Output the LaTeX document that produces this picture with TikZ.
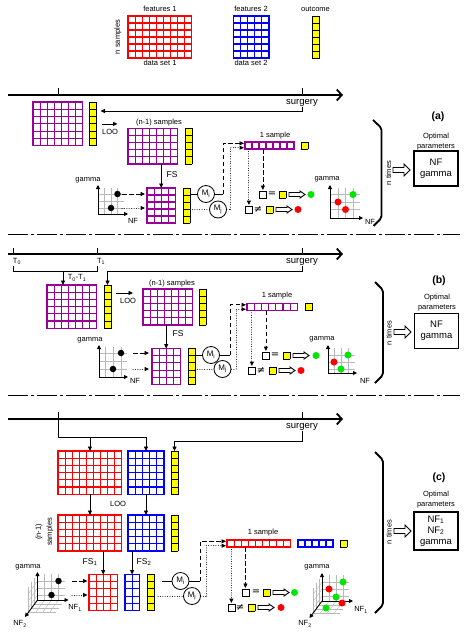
\documentclass[tikz,border=0pt]{standalone}
\usepackage{fontspec}
\setmainfont{Liberation Sans}
\newfontfamily\symfont{DejaVu Sans}
\usetikzlibrary{arrows.meta,calc}
\definecolor{pur}{RGB}{153,0,153}
\definecolor{yel}{RGB}{255,255,0}
\definecolor{grn}{RGB}{0,230,0}
\definecolor{rd}{RGB}{255,0,0}
\definecolor{bl}{RGB}{0,0,255}
\tikzset{
  box0/.style={inner sep=0pt,outer sep=0pt,anchor=north west,draw=none},
  gline/.style={line width=1.1pt,line cap=rect},
  cline/.style={line width=0.9pt,line cap=rect,black},
  conn/.style={line width=0.8pt},
  arr/.style={conn,-{Triangle[length=4.5pt,width=4pt]}},
  dasharr/.style={arr,dash pattern=on 4.5pt off 2.5pt},
  dotl/.style={line width=1pt,line cap=round,dash pattern=on 0.01pt off 2.4pt},
  dotarr/.style={dotl,-{Triangle[length=4.5pt,width=4pt]}},
  timeline/.style={line width=1.8pt,-{Straight Barb[length=5pt,width=11pt]}},
  tick/.style={line width=0.9pt},
  txt/.style={inner sep=0pt,font=\fontsize{7.5}{9}\selectfont},
  optxt/.style={inner sep=0pt,align=center,font=\fontsize{7.5}{10}\selectfont},
  surgtxt/.style={inner sep=0pt,font=\fontsize{9.5}{11}\selectfont},
  fstxt/.style={inner sep=0pt,font=\fontsize{8.5}{10}\selectfont},
  eqs/.style={inner sep=0pt,font=\symfont\fontsize{10}{10}\selectfont},
  lab/.style={inner sep=0pt,font=\bfseries\fontsize{10.5}{12}\selectfont},
  resbox/.style={draw,line width=1.6pt,minimum width=44pt,minimum height=35pt,align=center,inner sep=1pt,font=\fontsize{9.5}{11}\selectfont},
  sq/.style={draw,line width=0.8pt,fill=white,minimum size=7pt,inner sep=0pt,anchor=north west},
  mc/.style={circle,draw,line width=0.8pt,fill=white,minimum size=17pt,inner sep=0pt,font=\fontsize{8}{9}\selectfont},
  gdot/.style={circle,fill=grn,inner sep=0pt,minimum size=7pt},
  rdot/.style={circle,fill=rd,inner sep=0pt,minimum size=7pt},
  bdot/.style={circle,fill=black,inner sep=0pt,minimum size=6.5pt},
  gridg/.style={gray!55,line width=0.4pt},
  axis/.style={line width=0.9pt,{Triangle[length=4pt,width=4pt]}-{Triangle[length=4pt,width=4pt]}},
  axisone/.style={line width=0.9pt,-{Triangle[length=4pt,width=4pt]}},
  brace/.style={line width=1.8pt,rounded corners=2pt},
  barrow/.style={line width=0.9pt,line join=miter},
  sepline/.style={line width=1pt,dash pattern=on 20pt off 3pt on 3pt off 3pt}
}
\newcommand\Mat[8]{%
  \node[box0,minimum width=#4*#6pt,minimum height=#5*#7pt] (#1) at (#2,#3) {};
  \foreach \i in {0,...,#4}{\draw[gline,#8] (#2+\i*#6,#3) -- ++(0,#5*#7);}
  \foreach \j in {0,...,#5}{\draw[gline,#8] (#2,#3+\j*#7) -- ++(#4*#6,0);}
}
\newcommand\Ycol[6]{%
  \node[box0,fill=yel,minimum width=#5pt,minimum height=#4*#6pt] (#1) at (#2,#3) {};
  \foreach \j in {0,...,#4}{\draw[cline] (#2,#3+\j*#6) -- ++(#5,0);}
  \draw[cline] (#2,#3) -- ++(0,#4*#6) (#2+#5,#3) -- ++(0,#4*#6);
}
\newcommand\BArr[6]{%
  \draw[barrow] (#1,#2-#6) -- (#1+#3-#4,#2-#6) -- (#1+#3-#4,#2-#5) -- (#1+#3,#2)
    -- (#1+#3-#4,#2+#5) -- (#1+#3-#4,#2+#6) -- (#1,#2+#6) -- cycle;}
\newcommand\ThreeD[2]{%
  \begin{scope}[shift={(#1,#2)}]
    \foreach \u in {7,14,21} \draw[gridg] (\u,0) -- (\u,-26);
    \foreach \v in {-5,-12,-19} \draw[gridg] (0,\v) -- (27,\v);
    \foreach \t in {1,2,3} {
      \draw[gridg] (-3*\t,4.2*\t) -- (-3*\t,4.2*\t-26);
      \draw[gridg] (-3*\t,4.2*\t) -- (27-3*\t,4.2*\t);
    }
    \foreach \v in {-5,-12,-19} \draw[gridg] (0,\v) -- (-9,\v+12.6);
    \foreach \u in {7,14,21} \draw[gridg] (\u,0) -- (\u-9,12.6);
    \draw[axis] (0,-28) -- (0,0) -- (31,0);
    \draw[axisone] (0,0) -- (-12.5,17);
  \end{scope}}
\begin{document}
\begin{tikzpicture}[x=1pt,y=-1pt]
\path[use as bounding box,fill=white] (0,0) rectangle (474,637);

% ---------------- legend
\node[txt] (l-f1) at (160,9) {features 1};
\Mat{l-g1}{128}{16}{9}{6}{7.1}{7}{rd}
\node[txt] (l-d1) at (160,63) {data set 1};
\node[txt,rotate=90] (l-ns) at (118,37) {n samples};
\node[txt] (l-f2) at (251,9) {features 2};
\Mat{l-g2}{233.5}{16}{5}{6}{7.1}{7}{bl}
\node[txt] (l-d2) at (251,63) {data set 2};
\node[txt] (l-oc) at (315.5,9) {outcome};
\Ycol{l-y}{312}{16}{6}{7}{7.1}

% ---------------- panel a
\coordinate (a-ts) at (8,95); \coordinate (a-te) at (343,95);
\draw[timeline] (a-ts) -- (a-te);
\draw[tick] (58,88) -- (58,95);
\draw[tick] (302,88) -- (302,95);
\node[surgtxt] (a-surg) at (302,103) {surgery};
\Mat{a-g1}{33}{102}{7}{6}{7.1}{7.3}{pur}
\Ycol{a-y1}{89.5}{102}{6}{7}{7.3}
\coordinate (a-sk) at (302,111);
\draw[arr] (a-surg.south) -- (a-sk) -- ($(a-sk -| a-y1.east)+(4,0)$);
\draw[arr] ($(a-y1.east)+(5,0)$) -- ++(16,0);
\node[txt] (a-loo) at (110,132) {LOO};
\node[txt] (a-n1) at (159,122.5) {(n-1) samples};
\Mat{a-g2}{128}{128.5}{7}{5}{7.1}{7.1}{pur}
\Ycol{a-y2}{185}{128.5}{5}{7}{7.1}
\Mat{a-g3}{147}{188}{4}{5}{7.1}{7}{pur}
\Ycol{a-y3}{183}{188}{5}{7}{7}
\draw[arr] (a-g3.north |- a-g2.south) -- (a-g3.north);
\node[fstxt] (a-fs) at (172,175) {FS};
\foreach \x in {104.5,111,117.5} \draw[gridg] (\x,188) -- (\x,214);
\foreach \y in {194,201,208} \draw[gridg] (98,\y) -- (124,\y);
\draw[axis] (98,185) -- (98,214) -- (128,214);
\node[txt] (a-lg) at (88,180) {gamma};
\node[txt] (a-lnf) at (133,221) {NF};
\node[bdot] (a-d1) at (117.5,194) {};
\node[bdot] (a-d2) at (111,208) {};
\draw[dasharr] ($(a-d1 -| a-g3.west)+(-25,0)$) -- ($(a-d1 -| a-g3.west)+(-2,0)$);
\draw[dotarr] ($(a-d2 -| a-g3.west)+(-25,0)$) -- ($(a-d2 -| a-g3.west)+(-2,0)$);
\node[mc] (a-mi) at (206,194) {M\textsubscript{i}};
\node[mc] (a-mj) at (218,209.5) {M\textsubscript{j}};
\draw[conn] (a-y3.east |- a-mi) -- (a-mi);
\draw[dotl] (a-y3.east |- a-mj) -- (a-mj);
\Mat{a-bar}{245}{142}{7}{1}{7}{7}{pur}
\Ycol{a-ys}{301}{142}{1}{7}{7}
\node[txt] (a-1s) at (275,136) {1 sample};
\coordinate (a-cd) at (223,194);
\coordinate (a-cp) at (230,209.5);
\draw[conn] (a-mi) -- (a-cd);
\draw[dasharr] (a-cd) |- ($(a-bar.north west)+(-1,1.3)$);
\draw[dotl] (a-mj) -- (a-cp);
\draw[dotarr] (a-cp) |- ($(a-bar.south west)+(-1,-1.3)$);
\node[sq] (a-b1) at (259,191) {};
\node[eqs] (a-eq) at (272,194.5) {=};
\Ycol{a-yu}{279}{191}{1}{7}{7}
\BArr{289}{194.5}{16}{5}{3.5}{2}
\node[gdot] (a-gd) at (311,194.5) {};
\node[sq] (a-b2) at (245,206) {};
\node[eqs] (a-ne) at (258,209.5) {≠};
\Ycol{a-yl}{266}{206}{1}{7}{7}
\BArr{276}{209.5}{16}{5}{3.5}{2}
\node[rdot] (a-rd) at (298,209.5) {};
\draw[dasharr] (a-b1.north |- a-bar.south) -- ($(a-b1.north)+(0,-1)$);
\draw[dotarr] (a-b2.north |- a-bar.south) -- ($(a-b2.north)+(0,-1)$);
\foreach \x in {338,345.5,353} \draw[gridg] (\x,188) -- (\x,218);
\foreach \y in {194.5,202,209.5} \draw[gridg] (330,\y) -- (360,\y);
\draw[axis] (330,185) -- (330,218) -- (363,218);
\node[txt] (a-rg) at (327,179) {gamma};
\node[txt] (a-rnf) at (370,222) {NF};
\node[gdot] (a-p1) at (353,194.5) {};
\node[rdot] (a-p2) at (338,202) {};
\node[rdot] (a-p3) at (345.5,209.5) {};
\draw[brace] (373,120) -- (381.5,128) -- (381.5,218) -- (373.5,226);
\node[txt,rotate=90] (a-nt) at (388.5,173) {n times};
\BArr{393}{170}{17}{6}{6}{2.5}
\node[optxt] (a-op) at (436,142) {Optimal\\parameters};
\node[resbox] (a-res) at (436,168.5) {NF\\gamma};
\node[lab] (a-lab) at (438,117) {(a)};

% ---------------- panel b
\draw[sepline] (8,234) -- (460,234);
\draw[timeline] (8,254) -- (343,254);
\draw[tick] (13,248) -- (13,254);
\draw[tick] (97,248) -- (97,254);
\draw[tick] (302,248) -- (302,254);
\node[txt] (b-t0) at (17,261.5) {T\textsubscript{0}};
\node[txt] (b-t1) at (101,261.5) {T\textsubscript{1}};
\node[surgtxt] (b-surg) at (302,262) {surgery};
\draw[conn] (13,266) -- (13,271) -- (97,271) -- (97,266);
\coordinate (b-tb) at (63,271);
\Mat{b-g1}{47}{285}{7}{6}{7.1}{7.2}{pur}
\Ycol{b-y1}{104}{285}{6}{7}{7.2}
\draw[arr] (b-tb) -- (b-tb |- b-g1.north);
\node[txt] (b-tt) at (77,278) {T\textsubscript{0}-T\textsubscript{1}};
\coordinate (b-sk) at (302,271);
\draw[arr] (b-surg.south) -- (b-sk) -| (b-y1.north);
\coordinate (b-la) at (116,293);
\draw[arr] (b-la) -- ++(17,0);
\node[txt] (b-loo) at (128,301) {LOO};
\node[txt] (b-n1) at (172,284) {(n-1) samples};
\Mat{b-g2}{143}{289}{7}{5}{7.1}{7.2}{pur}
\Ycol{b-y2}{199}{289}{5}{7}{7.2}
\Mat{b-g3}{152}{348.5}{4}{5}{7.1}{7.2}{pur}
\Ycol{b-y3}{188}{348.5}{5}{7}{7.2}
\draw[arr] (b-g3.north |- b-g2.south) -- (b-g3.north);
\node[fstxt] (b-fs) at (178,334) {FS};
\foreach \x in {105,113,121} \draw[gridg] (\x,347) -- (\x,377);
\foreach \y in {353,361,369} \draw[gridg] (99,\y) -- (127,\y);
\draw[axis] (99,345) -- (99,377) -- (128,377);
\node[txt] (b-lg) at (90,340) {gamma};
\node[txt] (b-lnf) at (135,381) {NF};
\node[bdot] (b-d1) at (121,353) {};
\node[bdot] (b-d2) at (113,369) {};
\draw[dasharr] ($(b-d1 -| b-g3.west)+(-19,0)$) -- ($(b-d1 -| b-g3.west)+(-3,0)$);
\draw[dotarr] ($(b-d2 -| b-g3.west)+(-19,0)$) -- ($(b-d2 -| b-g3.west)+(-3,0)$);
\node[mc] (b-mi) at (211,355) {M\textsubscript{i}};
\node[mc] (b-mj) at (222.5,369) {M\textsubscript{j}};
\draw[conn] (b-y3.east |- b-mi) -- (b-mi);
\draw[dotl] (b-y3.east |- b-mj) -- (b-mj);
\Mat{b-bar}{247}{303.5}{7}{1}{7.2}{7}{pur}
\Ycol{b-ys}{305}{303.5}{1}{7}{7}
\node[txt] (b-1s) at (277,296) {1 sample};
\coordinate (b-cd) at (230,355);
\coordinate (b-cp) at (236,369);
\draw[conn] (b-mi) -- (b-cd);
\draw[dasharr] (b-cd) |- ($(b-bar.north west)+(-1,1.3)$);
\draw[dotl] (b-mj) -- (b-cp);
\draw[dotarr] (b-cp) |- ($(b-bar.south west)+(-1,-1.3)$);
\node[sq] (b-b1) at (262,352) {};
\node[eqs] (b-eq) at (275,355.5) {=};
\Ycol{b-yu}{283}{352}{1}{7}{7}
\BArr{293}{355.5}{16}{5}{3.5}{2}
\node[gdot] (b-gd) at (316,355.5) {};
\node[sq] (b-b2) at (248,367) {};
\node[eqs] (b-ne) at (261,370.5) {≠};
\Ycol{b-yl}{269}{367}{1}{7}{7}
\BArr{279}{370.5}{16}{5}{3.5}{2}
\node[rdot] (b-rd) at (301,370.5) {};
\draw[dasharr] (b-b1.north |- b-bar.south) -- ($(b-b1.north)+(0,-1)$);
\draw[dotarr] (b-b2.north |- b-bar.south) -- ($(b-b2.north)+(0,-1)$);
\foreach \x in {334,341,348} \draw[gridg] (\x,348) -- (\x,373);
\foreach \y in {355,362,369} \draw[gridg] (328,\y) -- (355,\y);
\draw[axis] (328,345) -- (328,373) -- (357,373);
\node[txt] (b-rg) at (322,339) {gamma};
\node[txt] (b-rnf) at (365,381) {NF};
\node[gdot] (b-p1) at (348,355) {};
\node[rdot] (b-p2) at (334,362) {};
\node[gdot] (b-p3) at (341,369) {};
\draw[brace] (375,282) -- (383,290) -- (383,375) -- (375,383);
\node[txt,rotate=90] (b-nt) at (389,333) {n times};
\BArr{394}{332}{17}{6}{6}{2.5}
\node[optxt] (b-op) at (437,303) {Optimal\\parameters};
\node[resbox] (b-res) at (436.5,331) {NF\\gamma};
\node[lab] (b-lab) at (439,281) {(b)};

% ---------------- panel c
\draw[sepline] (8,395) -- (460,395);
\draw[timeline] (8,419) -- (343,419);
\draw[tick] (58,412) -- (58,419);
\draw[tick] (302,412) -- (302,419);
\node[surgtxt] (c-surg) at (302,427) {surgery};
\Mat{c-g1}{58}{451}{9}{6}{7.1}{7.2}{rd}
\Mat{c-h1}{128}{451}{5}{6}{7.2}{7.2}{bl}
\Ycol{c-y1}{171}{451}{6}{7}{7.2}
\coordinate (c-j) at (58,437);
\draw[conn] (58,419) -- (c-j) -- (c-j -| c-h1.north);
\draw[arr] (c-j -| c-g1.north) -- (c-g1.north);
\draw[arr] (c-j -| c-h1.north) -- (c-h1.north);
\coordinate (c-sk) at (302,441);
\draw[arr] (c-surg.south) -- (c-sk) -| (c-y1.north);
\Mat{c-g2}{58}{515}{9}{5}{7.1}{7.2}{rd}
\Mat{c-h2}{128}{515}{5}{5}{7.2}{7.2}{bl}
\Ycol{c-y2}{171}{515}{5}{7}{7.2}
\draw[arr] (c-g1.south) -- (c-g2.north);
\draw[arr] (c-h1.south) -- (c-h2.north);
\node[txt] (c-loo) at (118,504) {LOO};
\node[txt,rotate=90,align=center,font=\fontsize{7.5}{11}\selectfont] (c-n1) at (44.5,532) {(n-1)\\samples};
\Mat{c-g3}{89}{574.5}{4}{5}{7.1}{7.2}{rd}
\Mat{c-h3}{125}{574.5}{2}{5}{7.1}{7.2}{bl}
\Ycol{c-y3}{147}{574.5}{5}{7}{7.2}
\draw[arr] (c-g3.north |- c-g2.south) -- (c-g3.north);
\draw[arr] (c-h3.north |- c-h2.south) -- (c-h3.north);
\node[fstxt] (c-fs1) at (90,562) {FS\textsubscript{1}};
\node[fstxt] (c-fs2) at (144,562) {FS\textsubscript{2}};
\ThreeD{37.5}{600}
\node[txt] (c-lg) at (28,567) {gamma};
\node[txt] (c-lnf1) at (75,608) {NF\textsubscript{1}};
\node[txt] (c-lnf2) at (20,624) {NF\textsubscript{2}};
\node[bdot] (c-d1) at (58.5,581) {};
\node[bdot] (c-d2) at (51.5,595) {};
\draw[dasharr] ($(c-d1 -| c-g3.west)+(-17,0)$) -- ($(c-d1 -| c-g3.west)+(-1.5,0)$);
\draw[dotarr] ($(c-d2 -| c-g3.west)+(-17,0)$) -- ($(c-d2 -| c-g3.west)+(-1.5,0)$);
\node[mc] (c-mi) at (180.5,581) {M\textsubscript{i}};
\node[mc] (c-mj) at (192,596) {M\textsubscript{j}};
\draw[conn] ($(c-y3.east |- c-mi)+(8,0)$) -- (c-mi);
\draw[dotl] ($(c-y3.east |- c-mj)+(4,0)$) -- (c-mj);
\Mat{c-bar}{227}{540}{9}{1}{7.1}{7}{rd}
\Mat{c-hb}{298}{540}{5}{1}{7}{7}{bl}
\Ycol{c-ys}{340}{540}{1}{7}{7}
\node[txt] (c-1s) at (263,533) {1 sample};
\coordinate (c-cd) at (200,581);
\coordinate (c-cp) at (206,596);
\draw[conn] (c-mi) -- (c-cd);
\draw[dasharr] (c-cd) |- ($(c-bar.north west)+(-1,1.3)$);
\draw[dotl] (c-mj) -- (c-cp);
\draw[dotarr] (c-cp) |- ($(c-bar.south west)+(-1,-1.3)$);
\node[sq] (c-b1) at (241.5,589) {};
\node[eqs] (c-eq) at (256,592.5) {=};
\Ycol{c-yu}{263}{589}{1}{7}{7}
\BArr{273}{592.5}{16}{5}{3.5}{2}
\node[gdot] (c-gd) at (294.5,592.5) {};
\node[sq] (c-b2) at (227.5,604) {};
\node[eqs] (c-ne) at (240,607.5) {≠};
\Ycol{c-yl}{248}{604}{1}{7}{7}
\BArr{258}{607.5}{16}{5}{3.5}{2}
\node[rdot] (c-rd) at (281,607.5) {};
\draw[dasharr] (c-b1.north |- c-bar.south) -- ($(c-b1.north)+(0,-1)$);
\draw[dotarr] (c-b2.north |- c-bar.south) -- ($(c-b2.north)+(0,-1)$);
\ThreeD{322}{601}
\node[txt] (c-rg) at (317,567) {gamma};
\node[txt] (c-rnf1) at (361,610) {NF\textsubscript{1}};
\node[txt] (c-rnf2) at (305,624) {NF\textsubscript{2}};
\node[gdot] (c-p1) at (343,582) {};
\node[rdot] (c-p2) at (329,589) {};
\node[gdot] (c-p3) at (336,597) {};
\node[rdot] (c-p4) at (342,603) {};
\node[gdot] (c-p5) at (326,608) {};
\draw[brace] (375,452) -- (383,460) -- (383,605) -- (375,613);
\node[txt,rotate=90] (c-nt) at (389,532) {n times};
\BArr{394}{531}{17}{6}{6}{2.5}
\node[optxt] (c-op) at (436,500) {Optimal\\parameters};
\node[resbox,minimum height=38pt] (c-res) at (436,531) {NF\textsubscript{1}\\NF\textsubscript{2}\\gamma};
\node[lab] (c-lab) at (439,478) {(c)};
\end{tikzpicture}
\end{document}
